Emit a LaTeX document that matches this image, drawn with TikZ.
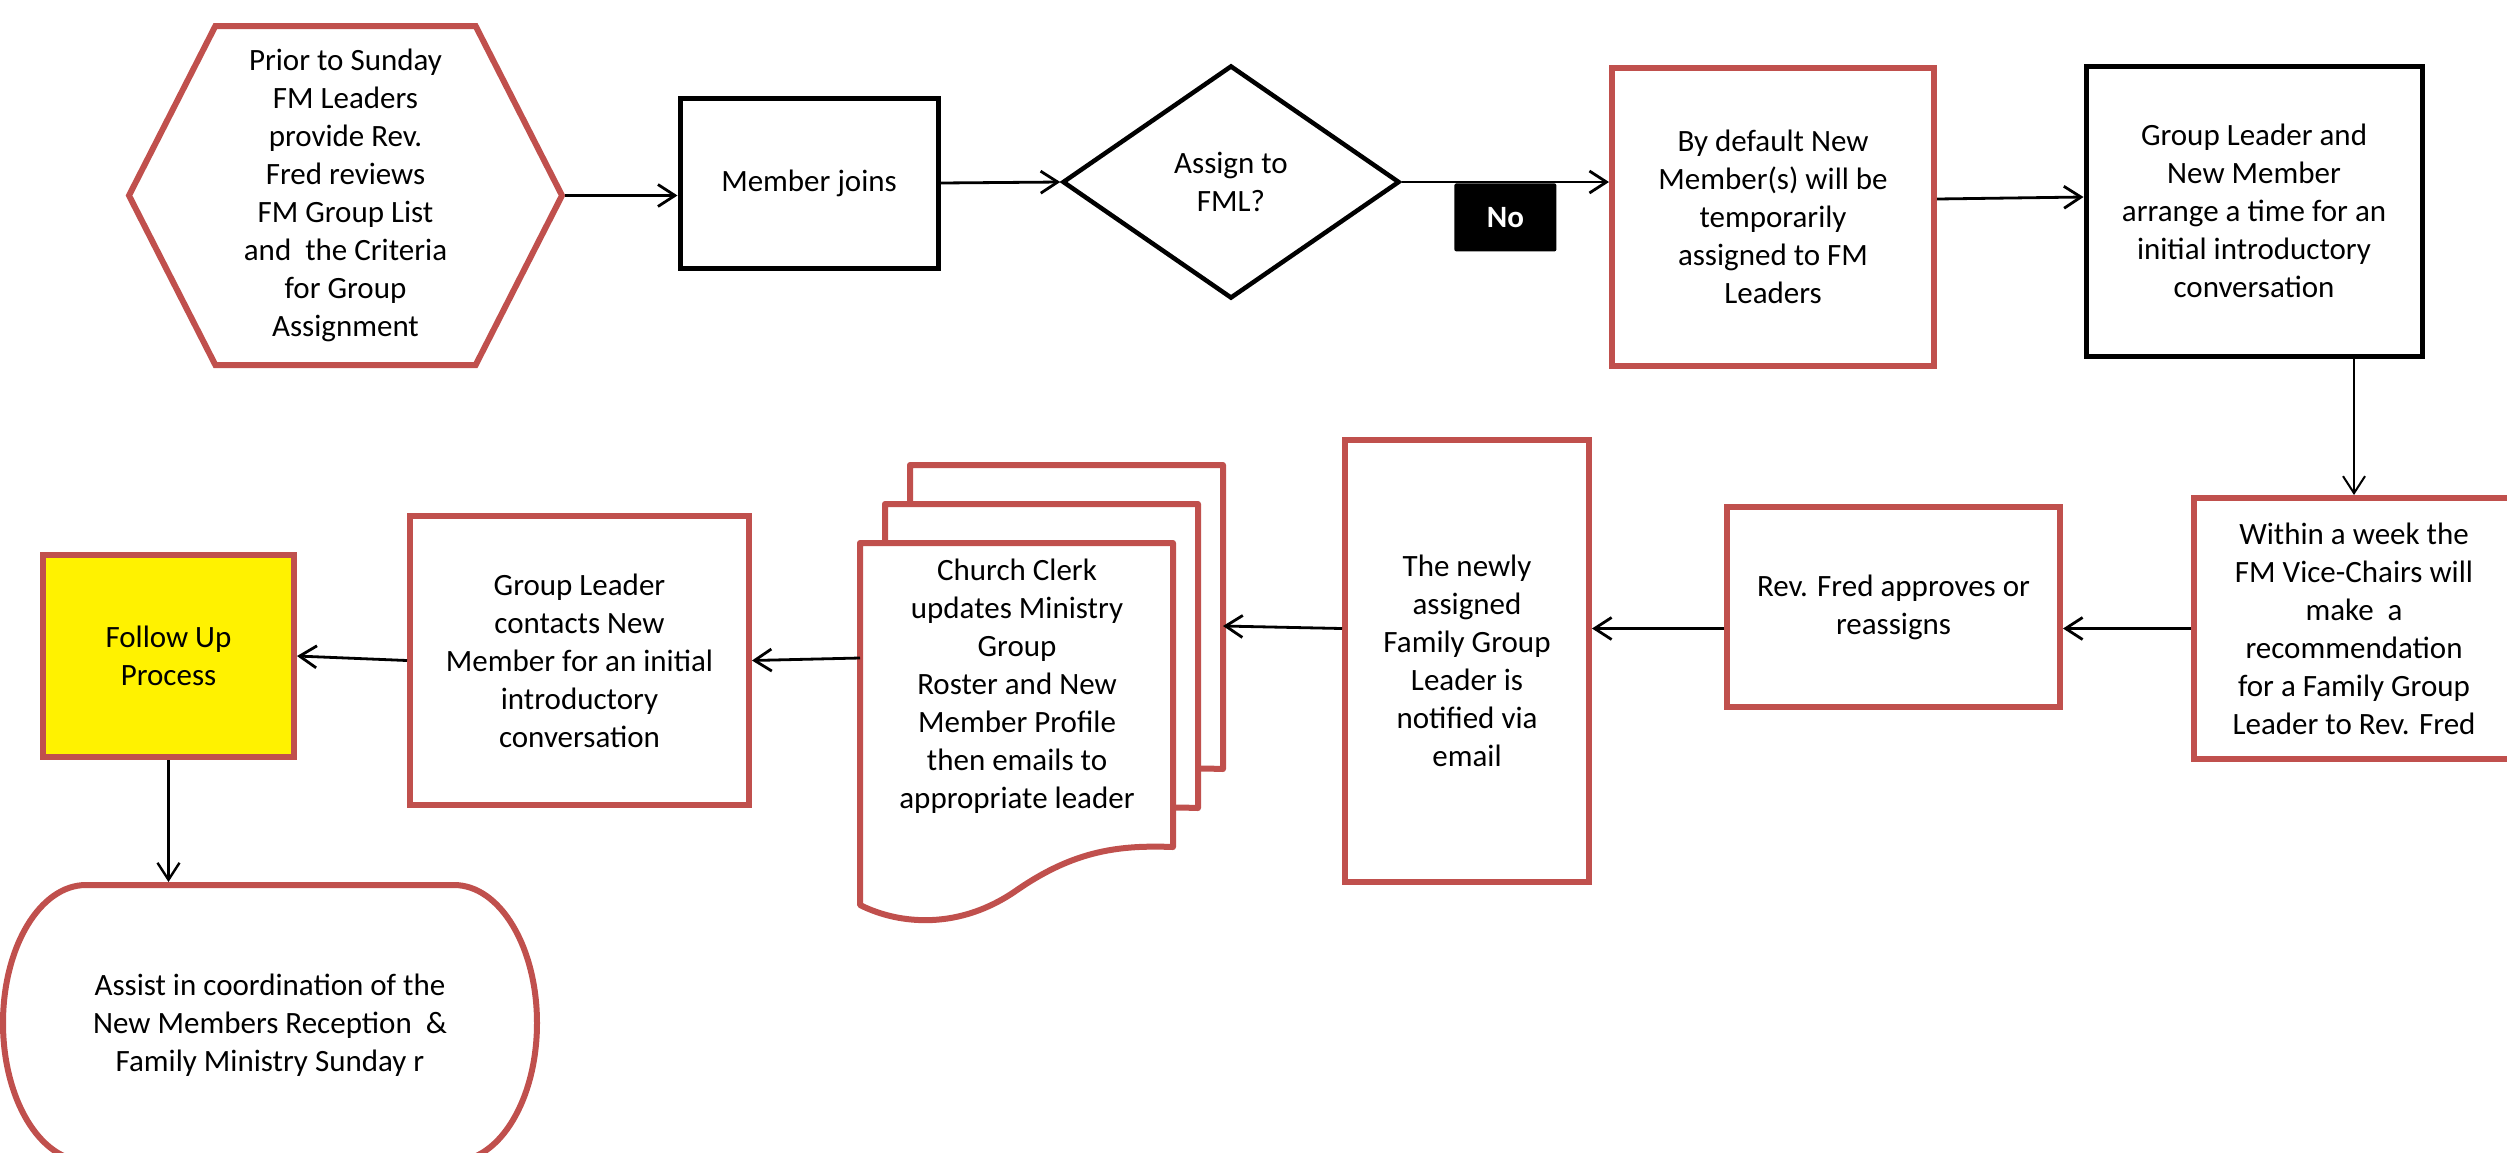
\documentclass[tikz,border=0pt]{standalone}
\usepackage{fontspec}
\setmainfont{Carlito}
\usetikzlibrary{shapes.geometric,shapes.symbols,arrows.meta}
\definecolor{boxred}{RGB}{192,80,77}

\begin{document}
\begin{tikzpicture}[x=1pt, y=-1pt,
    every node/.style={font=\fontsize{31}{38}\selectfont, align=center},
    redbox/.style={rectangle, draw=boxred, line width=6pt, fill=white},
    blackbox/.style={rectangle, draw=black, line width=5pt, fill=white},
    flow/.style={draw=black, line width=2.8pt, -{Straight Barb[length=17pt,width=22pt]}},
    nolabel/.style={fill=black, text=white, font=\fontsize{31}{38}\selectfont\bfseries,
        rounded corners=2pt, minimum width=102pt, minimum height=68pt}]
  \useasboundingbox (0,0) rectangle (2507,1152);

  % top row
  \node[signal, signal to=east and west, signal pointer angle=126, draw=boxred, line width=6pt,
        minimum width=433pt, minimum height=339pt] (prior) at (345.5,195.5)
        {Prior to Sunday\\FM Leaders\\provide Rev.\\Fred reviews\\FM Group List\\and~ the Criteria\\for Group\\Assignment};
  \node[blackbox, minimum width=258pt, minimum height=170pt] (member) at (809,183) {Member joins};
  \node[diamond, draw, line width=4.5pt, aspect=1.45, inner sep=0pt,
        minimum width=337pt, minimum height=233pt] (fml) at (1231,182) {Assign to\\FML?};
  \node[redbox, minimum width=322pt, minimum height=298pt] (default) at (1773,217)
        {By default New\\Member(s) will be\\temporarily\\assigned to FM\\Leaders};
  \node[blackbox, minimum width=336pt, minimum height=290pt] (leader) at (2254,211)
        {Group Leader and\\New Member\\arrange a time for an\\initial introductory\\conversation};

  % middle row
  \node[redbox, minimum width=320pt, minimum height=261pt] (week) at (2354,628.5)
        {Within a week the\\FM Vice-Chairs will\\make~ a\\recommendation\\for a Family Group\\Leader to Rev. Fred};
  \node[redbox, minimum width=333pt, minimum height=200pt] (fred) at (1893.5,607)
        {Rev. Fred approves or\\reassigns};
  \node[redbox, minimum width=244pt, minimum height=442pt] (newly) at (1467,661)
        {The newly\\assigned\\Family Group\\Leader is\\notified via\\email};

  % stacked documents
  \foreach \d in {2,1,0}
    \filldraw[draw=boxred, fill=white, line width=6pt, line join=round, shift={({25*\d},{-39*\d})}]
      (860,543) -- (1173,543) -- (1173,847)
      .. controls (1120,845) and (1075,850) .. (1017,890)
      .. controls (960,930) and (900,925) .. (860,905) -- cycle;
  \node (clerk) at (1017,686)
        {Church Clerk\\updates Ministry\\Group\\Roster and New\\Member Profile\\then emails to\\appropriate leader};
  \coordinate (stackin) at (1223,626);
  \coordinate (stackout) at (860,658);

  \node[redbox, minimum width=339pt, minimum height=289pt] (contacts) at (579.5,660.5)
        {Group Leader\\contacts New\\Member for an initial\\introductory\\conversation};
  \node[redbox, fill=yellow, minimum width=251pt, minimum height=202pt] (follow) at (168.5,656)
        {Follow Up\\Process};

  % terminator at the bottom
  \draw[draw=boxred, line width=6pt]
    (86,885) -- (454,885) .. controls (500,885) and (537,947) .. (537,1023)
    .. controls (537,1099) and (500,1161) .. (454,1161) -- (86,1161)
    .. controls (40,1161) and (3,1099) .. (3,1023)
    .. controls (3,947) and (40,885) .. (86,885) -- cycle;
  \node (assist) at (270,1025)
        {Assist in coordination of the\\New Members Reception~ \&\\Family Ministry Sunday r};
  \coordinate (assisttop) at (270,882);

  % arrows
  \draw[flow] (prior.east) -- (prior.east -| member.west);
  \draw[flow] (member.east) -- (fml.west);
  \draw[flow] (fml.east) -- (fml.east -| default.west)
    node[nolabel, pos=0.5, anchor=north] (no) {No};
  \draw[flow] ([yshift=18pt]default.east) -- ([yshift=14pt]leader.west);
  \draw[flow, line width=2pt] (week.north |- leader.south) -- (week.north);
  \draw[flow] (week.west) -- (week.west -| fred.east);
  \draw[flow] (week.west -| fred.west) -- (week.west -| newly.east);
  \draw[flow] (week.west -| newly.west) -- (stackin);
  \draw[flow] (stackout) -- (contacts.east);
  \draw[flow] (contacts.west) -- (follow.east);
  \draw[flow, line width=2.4pt] (follow.south) -- (follow.south |- assisttop);
\end{tikzpicture}
\end{document}
